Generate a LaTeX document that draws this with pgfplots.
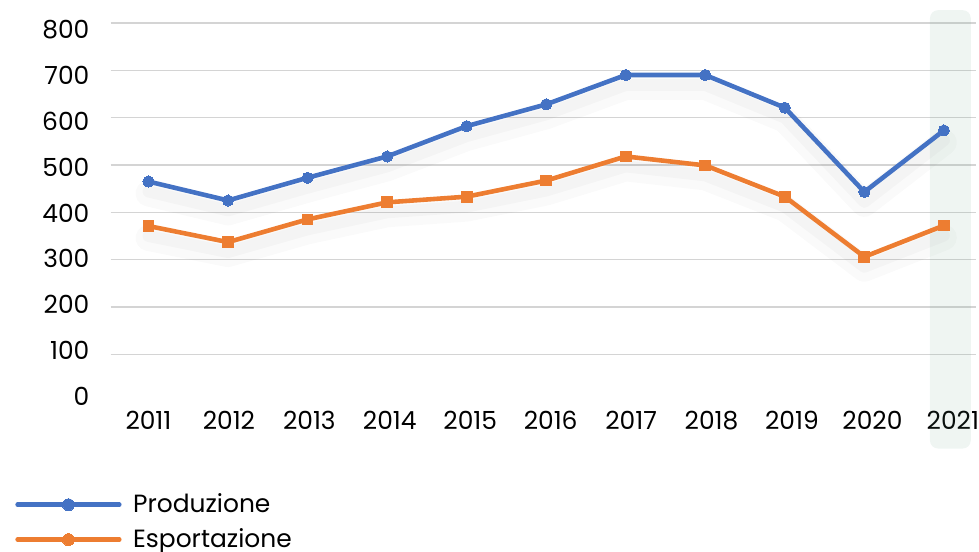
\documentclass[border=0pt]{standalone}
\usepackage{pgfplots}
\pgfplotsset{compat=1.18}
\usepackage{fontspec}
\setmainfont{Poppins}
\definecolor{cblue}{HTML}{4472C4}
\definecolor{corange}{HTML}{ED7D31}
\definecolor{cgrid}{HTML}{D4D4D4}
\definecolor{cband}{HTML}{5FA080}
\begin{document}
\begin{tikzpicture}[font=\fontsize{12.5}{15}\selectfont]
\path (0,0) rectangle (489.5pt,276.5pt);
\begin{axis}[
  at={(55.5pt,75pt)}, anchor=south west,
  scale only axis, width=434pt, height=190pt,
  xmin=-0.476, xmax=10.40, ymin=0, ymax=800,
  xtick={0,1,2,3,4,5,6,7,8,9,10},
  xticklabels={2011,2012,2013,2014,2015,2016,2017,2018,2019,2020,2021},
  ytick={100,200,300,400,500,600,700,800},
  extra y ticks={0}, extra y tick style={grid=none, yticklabel style={yshift=0.8pt}},
  ymajorgrids, grid style={cgrid, line width=0.75pt},
  axis line style={draw=none}, tick style={draw=none}, major tick length=0pt,
  clip=false,
  /pgf/number format/assume math mode=true,
  yticklabel style={inner sep=0pt, xshift=-10.5pt, yshift={(2.1-0.8*\ticknum)*1pt}},
  xticklabel style={inner sep=0pt, yshift=-4.5pt, xshift={0.45pt*\ticknum}},
  legend style={at={(0,0)}, anchor=north west, xshift=-48pt, yshift=-46pt,
    draw=none, fill=none, inner sep=0pt, row sep=6.5pt,
    nodes={inner sep=0pt}},
  legend cell align=left,
  legend image code/.code={\draw[mark repeat=2, mark phase=2, line cap=round, #1] plot coordinates {(0pt,0pt) (25.5pt,0pt) (51pt,0pt)}; \path (56.8pt,0pt);},
]
\fill[cband, fill opacity=0.1, rounded corners=4pt] (axis cs:9.825,-99) rectangle (axis cs:10.338,827);

\addlegendimage{cblue, line width=2.3pt, mark=*, mark size=3pt, mark options={solid, line width=0pt}}
\addlegendentry{Produzione}
\addlegendimage{corange, line width=2.3pt, mark=*, mark size=3pt, mark options={solid, line width=0pt}}
\addlegendentry{Esportazione}

% soft shadows
\addplot[forget plot, black, opacity=0.018, line width=13pt, transform canvas={yshift=-6pt}, line join=round, line cap=round] coordinates {
(0,465) (1,425) (2,473) (3,518) (4,582) (5,628) (6,690) (7,690) (8,621) (9,443) (10,573)};
\addplot[forget plot, black, opacity=0.025, line width=6pt, transform canvas={yshift=-5pt}, line join=round, line cap=round] coordinates {
(0,465) (1,425) (2,473) (3,518) (4,582) (5,628) (6,690) (7,690) (8,621) (9,443) (10,573)};
\addplot[forget plot, black, opacity=0.018, line width=13pt, transform canvas={yshift=-6pt}, line join=round, line cap=round] coordinates {
(0,371) (1,337) (2,385) (3,421) (4,433) (5,467) (6,518) (7,499) (8,433) (9,306) (10,372)};
\addplot[forget plot, black, opacity=0.025, line width=6pt, transform canvas={yshift=-5pt}, line join=round, line cap=round] coordinates {
(0,371) (1,337) (2,385) (3,421) (4,433) (5,467) (6,518) (7,499) (8,433) (9,306) (10,372)};

\addplot[forget plot, cblue, line width=2.3pt, mark=*, mark size=2.8pt, mark options={solid, line width=0pt}] coordinates {
(0,465) (1,425) (2,473) (3,518) (4,582) (5,628) (6,690) (7,690) (8,621) (9,443) (10,573)};
\addplot[forget plot, corange, line width=2.3pt, mark=square*, mark size=2.7pt, mark options={solid, line width=0pt}] coordinates {
(0,371) (1,337) (2,385) (3,421) (4,433) (5,467) (6,518) (7,499) (8,433) (9,306) (10,372)};
\end{axis}
\end{tikzpicture}
\end{document}
